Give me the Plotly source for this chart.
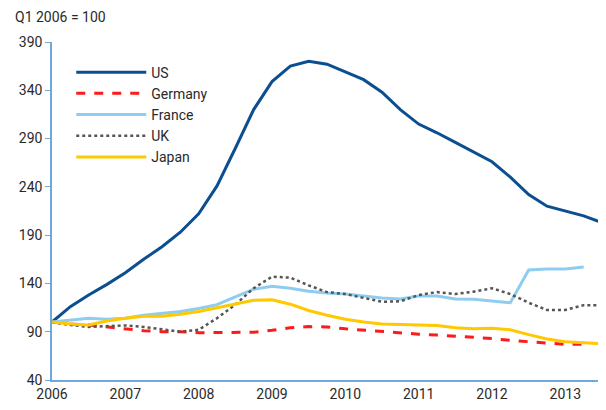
import plotly.graph_objects as go

# quarterly index, Q1 2006 = 100
quarters = [2006 + i * 0.25 for i in range(31)]

us = [100, 116, 128, 139, 151, 165, 178, 193, 212, 241, 280, 320, 349, 365, 370, 367,
      359, 351, 338, 320, 305, 296, 286, 276, 266, 250, 232, 220, 215, 210, 203]
germany = [100, 98, 97, 95, 93, 91, 90, 90, 89, 89, 89, 89.5, 91.5, 94, 95.3, 95,
           93, 91.5, 90, 88.5, 87.5, 86.5, 85.5, 84, 83, 81, 79.5, 78, 77, 77]
france = [100, 102, 104, 103, 104, 107, 109, 111, 114, 118, 126, 134, 137, 135, 132, 130,
          129, 127, 125, 124, 127, 127, 124, 123.5, 122, 120, 154, 155, 155, 157]
uk = [100, 97, 95, 95.5, 96.5, 95, 92.5, 90, 92, 104, 118, 135, 147, 146, 138, 131,
      129, 125, 121, 121.5, 128, 131, 129, 131.5, 135, 129, 120, 112.5, 112.5, 117.5, 117.5]
japan = [100, 98, 97, 101, 104, 106, 106, 108, 111, 115, 119, 122.5, 123, 118.5, 112, 107,
         103, 100, 98, 97.5, 97, 96.5, 94, 93, 93.5, 92, 87, 82.5, 79.5, 78.5, 77.5]

year_ticks = list(range(2006, 2014))
y_ticks = list(range(40, 391, 50))

FONT = "Roboto, sans-serif"
AXIS_BLUE = "#6fa8dc"

series = [
    ("US", us, dict(color="#0b4f91", width=3)),
    ("Germany", germany, dict(color="#ff1a1a", width=3, dash="dash")),
    ("France", france, dict(color="#8fcdf0", width=3)),
    ("UK", uk, dict(color="#555555", width=2.5, dash="dot")),
    ("Japan", japan, dict(color="#ffc800", width=3)),
]

fig = go.Figure()
for name, values, line in series:
    fig.add_trace(go.Scatter(
        x=quarters[:len(values)],
        y=values,
        mode="lines",
        name=name,
        line=line,
    ))

# the page body adds an 8px margin, so the figure is 8px smaller than the window
fig.update_layout(
    width=598,
    height=402,
    margin=dict(l=44, r=4, t=34, b=30),
    plot_bgcolor="white",
    paper_bgcolor="white",
    font=dict(family=FONT, size=14, color="#2a2a2a"),
    showlegend=True,
    legend=dict(
        x=0.035, y=0.957, xanchor="left", yanchor="top",
        bgcolor="rgba(0,0,0,0)",
        font=dict(size=14),
        itemwidth=70,
        tracegroupgap=0,
    ),
    annotations=[dict(
        text="Q1 2006 = 100",
        xref="paper", yref="paper",
        x=-0.071, y=1.074, xanchor="left", yanchor="middle",
        showarrow=False,
        font=dict(size=14),
    )],
)

fig.update_xaxes(
    range=[2006, 2013.5],
    tickvals=year_ticks,
    ticktext=[str(y) for y in year_ticks],
    showgrid=False,
    zeroline=False,
    showline=True,
    linecolor=AXIS_BLUE,
    linewidth=1.5,
    ticks="",
    automargin=False,
)
fig.update_yaxes(
    range=[40, 390],
    tickvals=y_ticks,
    showgrid=False,
    zeroline=False,
    showline=True,
    linecolor=AXIS_BLUE,
    linewidth=1.5,
    ticks="outside",
    ticklen=5,
    tickcolor=AXIS_BLUE,
    automargin=False,
)

fig.write_html("out.html")
